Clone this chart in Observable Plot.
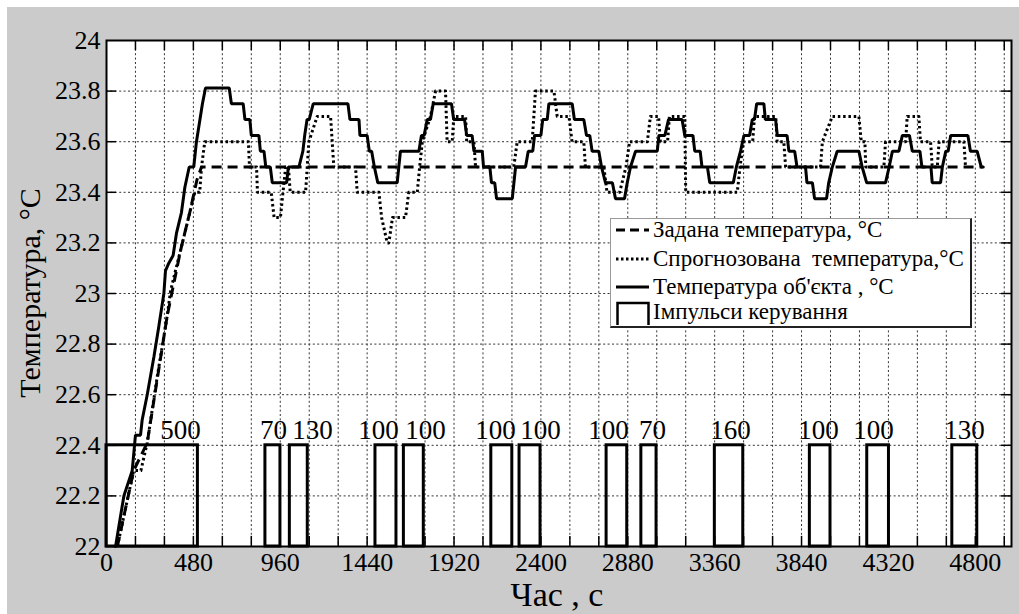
<!DOCTYPE html>
<html><head><meta charset="utf-8">
<script src="https://cdn.jsdelivr.net/npm/d3@7"></script>
<script src="https://cdn.jsdelivr.net/npm/@observablehq/plot@0.6"></script>
<style>
body{margin:0;background:#fff;}
#wrap{position:relative;width:1019px;height:614px;background:#fff;font-family:"Liberation Serif","Times New Roman",serif;color:#000;}
#grey{position:absolute;left:7px;top:7px;right:0;bottom:0;background:#cbcbcb;}
#chart{position:absolute;left:0;top:0;}
#ylabel{position:absolute;left:-170px;top:278px;width:400px;height:30px;line-height:30px;text-align:center;font-size:30px;transform:rotate(-90deg);transform-origin:50% 50%;white-space:nowrap;}
#xlabel{position:absolute;left:407px;top:576.3px;width:300px;line-height:normal;text-align:center;font-size:34px;white-space:nowrap;}
#legend{position:absolute;left:610px;top:218px;width:359px;height:107px;background:#fff;border:1px solid #999;border-right:2px solid #222;border-bottom:2px solid #222;}
.row{position:absolute;left:0;height:26px;width:359px;}
.row svg{position:absolute;left:4px;top:0;}
.row span{position:absolute;left:42px;top:0;line-height:26px;font-size:23px;white-space:nowrap;}
</style></head>
<body>
<div id="wrap">
  <div id="grey"></div>
  <div id="chart"></div>
  <div id="ylabel">Температура, °C</div>
  <div id="xlabel">Час , с</div>
  <div id="legend">
    <div class="row" style="top:-2px"><svg width="36" height="26"><line x1="1" y1="13" x2="34" y2="13" stroke="#000" stroke-width="3" stroke-dasharray="9,5"/></svg><span>Задана температура, °C</span></div>
    <div class="row" style="top:27px"><svg width="36" height="26"><line x1="1" y1="13" x2="34" y2="13" stroke="#000" stroke-width="3" stroke-dasharray="2.5,2.5"/></svg><span>Спрогнозована&nbsp; температура,°C</span></div>
    <div class="row" style="top:55px"><svg width="36" height="26"><line x1="1" y1="13" x2="34" y2="13" stroke="#000" stroke-width="3"/></svg><span>Температура об'єкта , °C</span></div>
    <div class="row" style="top:80px"><svg width="36" height="26"><path d="M2.5,26 V4 H33.5 V26" fill="none" stroke="#000" stroke-width="2.5"/></svg><span>Імпульси керування</span></div>
  </div>
</div>
<script>
// ---- data ----
const xTickValues = [0, 480, 960, 1440, 1920, 2400, 2880, 3360, 3840, 4320, 4800];
const yTickValues = [22, 22.2, 22.4, 22.6, 22.8, 23, 23.2, 23.4, 23.6, 23.8, 24];
const xGridStep = 160;

const setpoint = [[60,22.0],[150,22.3],[225,22.41],[335,22.91],[409,23.17],[460,23.32],[500,23.45],[525,23.5],[4840,23.5]];

const predicted = [
[60,22.0],[150,22.3],[190,22.3],[225,22.41],[280,22.67],[308,22.79],[335,22.91],[354,23.01],[381,23.09],[409,23.17],[433,23.24],[460,23.32],[488,23.4],[515,23.4],[525,23.5],[543,23.6],[784,23.6],[790,23.5],[829,23.5],[834,23.4],[910,23.4],[926,23.3],[961,23.3],[975,23.4],[990,23.5],[1005,23.5],[1015,23.4],[1100,23.4],[1118,23.6],[1164,23.7],[1238,23.7],[1256,23.5],[1376,23.5],[1385,23.4],[1505,23.4],[1520,23.3],[1551,23.2],[1560,23.2],[1580,23.3],[1652,23.3],[1670,23.4],[1717,23.4],[1730,23.5],[1745,23.6],[1790,23.7],[1818,23.8],[1873,23.8],[1882,23.6],[1910,23.6],[1919,23.7],[1984,23.7],[1990,23.6],[2030,23.6],[2039,23.5],[2250,23.5],[2269,23.6],[2352,23.6],[2370,23.8],[2472,23.8],[2490,23.7],[2555,23.7],[2572,23.6],[2637,23.6],[2646,23.5],[2748,23.5],[2765,23.4],[2835,23.4],[2870,23.5],[2890,23.6],[2988,23.6],[3005,23.7],[3050,23.7],[3060,23.6],[3100,23.6],[3110,23.7],[3195,23.7],[3200,23.4],[3485,23.4],[3500,23.5],[3520,23.6],[3570,23.6],[3580,23.7],[3697,23.7],[3705,23.6],[3742,23.6],[3752,23.5],[3945,23.5],[3955,23.6],[4010,23.7],[4157,23.7],[4170,23.6],[4190,23.6],[4195,23.5],[4295,23.5],[4304,23.6],[4415,23.6],[4424,23.7],[4488,23.7],[4497,23.6],[4553,23.6],[4562,23.5],[4590,23.5],[4600,23.6],[4737,23.6],[4746,23.5]
];

const actual = [
[50,22.0],[96,22.2],[142,22.3],[160,22.44],[188,22.44],[197,22.5],[225,22.6],[262,22.75],[289,22.87],[317,23.0],[326,23.09],[344,23.12],[368,23.15],[387,23.24],[414,23.32],[433,23.42],[457,23.5],[482,23.5],[497,23.6],[530,23.75],[547,23.8125],[678,23.8125],[690,23.75],[755,23.75],[765,23.6875],[792,23.6875],[800,23.625],[842,23.625],[850,23.5625],[870,23.5625],[880,23.5],[905,23.5],[916,23.4375],[995,23.4375],[1005,23.5],[1063,23.5],[1085,23.5625],[1095,23.625],[1108,23.6875],[1120,23.6875],[1142,23.75],[1334,23.75],[1345,23.6875],[1395,23.6875],[1400,23.625],[1440,23.625],[1452,23.5625],[1465,23.5625],[1480,23.5],[1499,23.4375],[1606,23.4375],[1615,23.5],[1624,23.5625],[1726,23.5625],[1740,23.625],[1755,23.625],[1772,23.6875],[1790,23.6875],[1805,23.75],[1906,23.75],[1918,23.6875],[1978,23.6875],[1990,23.625],[2020,23.625],[2030,23.5625],[2076,23.5625],[2083,23.5],[2118,23.5],[2127,23.4375],[2145,23.4375],[2155,23.375],[2242,23.375],[2260,23.5],[2315,23.5],[2330,23.5625],[2355,23.5625],[2365,23.625],[2400,23.625],[2410,23.6875],[2435,23.6875],[2444,23.75],[2573,23.75],[2585,23.6875],[2637,23.6875],[2652,23.625],[2670,23.625],[2683,23.5625],[2720,23.5625],[2735,23.5],[2757,23.4375],[2795,23.4375],[2812,23.375],[2862,23.375],[2877,23.4375],[2895,23.5],[2923,23.5625],[3043,23.5625],[3052,23.625],[3085,23.625],[3105,23.6875],[3180,23.6875],[3195,23.625],[3240,23.625],[3250,23.5625],[3280,23.5625],[3290,23.5],[3320,23.5],[3333,23.4375],[3463,23.4375],[3480,23.5],[3503,23.5625],[3522,23.625],[3553,23.625],[3568,23.6875],[3580,23.6875],[3592,23.75],[3632,23.75],[3640,23.6875],[3697,23.6875],[3706,23.625],[3760,23.625],[3770,23.5625],[3802,23.5625],[3815,23.5],[3862,23.5],[3870,23.4375],[3900,23.4375],[3912,23.375],[3978,23.375],[3990,23.4375],[4010,23.5],[4037,23.5625],[4157,23.5625],[4175,23.5],[4200,23.4375],[4304,23.4375],[4324,23.5],[4342,23.5625],[4378,23.5625],[4397,23.625],[4436,23.625],[4452,23.5625],[4494,23.5625],[4505,23.5],[4555,23.5],[4562,23.4375],[4608,23.4375],[4618,23.5],[4637,23.5625],[4650,23.5625],[4664,23.625],[4759,23.625],[4773,23.5625],[4810,23.5625],[4833,23.5],[4844,23.5]
];

const pulseStart = [0, 878, 1013, 1486, 1643, 2126, 2282, 2763, 2955, 3361, 3886, 4203, 4673];
const pulseEnd   = [505, 961, 1112, 1602, 1753, 2242, 2398, 2877, 3039, 3518, 4000, 4323, 4811];
const pulseLevel = 22.4;
const pulseLabels = ["500","70","130","100","100","100","100","100","70","160","100","100","130"];
const pulseLabelX = [409, 923, 1138, 1503, 1763, 2149, 2398, 2774, 3017, 3448, 3934, 4238, 4741];
const pulseLabelY = 22.458;

// ---- build ----
const xDomain = [0, 5000], yDomain = [22, 24];
const xGrid = d3.range(xGridStep, xDomain[1], xGridStep);
const yGrid = yTickValues.slice(1, -1);
const pulses = pulseStart.map((s, i) => ({start: s, end: pulseEnd[i]}));
const labels = pulseLabels.map((t, i) => ({x: pulseLabelX[i], text: t}));
const gridStyle = {stroke: "#333", strokeWidth: 1, strokeDasharray: "2,2.4"};

const chart = Plot.plot({
  width: 1019, height: 614,
  marginLeft: 106, marginRight: 8, marginTop: 40, marginBottom: 68,
  style: {background: "transparent", fontFamily: "'Liberation Serif','Times New Roman',serif", fontSize: "26px", color: "#000"},
  x: {domain: xDomain, ticks: xTickValues, tickSize: 0, tickPadding: 6, label: null, tickFormat: d => String(d)},
  y: {domain: yDomain, ticks: yTickValues, tickSize: 0, tickPadding: 6, label: null, tickFormat: d => String(d)},
  marks: [
    Plot.frame({fill: "white", stroke: null}),
    Plot.ruleX(xGrid, gridStyle),
    Plot.ruleY(yGrid, gridStyle),
    Plot.ruleX(xGrid, {y1: 22, y2: 22.04, stroke: "#000", strokeWidth: 1.5}),
    Plot.ruleX(xGrid, {y1: 23.96, y2: 24, stroke: "#000", strokeWidth: 1.5}),
    Plot.ruleY(yGrid, {x1: 0, x2: 55, stroke: "#000", strokeWidth: 1.5}),
    Plot.ruleY(yGrid, {x1: 4945, x2: 5000, stroke: "#000", strokeWidth: 1.5}),
    Plot.line(setpoint, {x: d => d[0], y: d => d[1], stroke: "#000", strokeWidth: 3, strokeDasharray: "10,6", strokeLinecap: "butt"}),
    Plot.line(predicted, {x: d => d[0], y: d => d[1], stroke: "#000", strokeWidth: 3, strokeDasharray: "2.5,2.8", strokeLinecap: "butt"}),
    Plot.line(actual, {x: d => d[0], y: d => d[1], stroke: "#000", strokeWidth: 3, strokeLinejoin: "miter"}),
    Plot.rect(pulses, {x1: "start", x2: "end", y1: 22, y2: pulseLevel, fill: "none", stroke: "#000", strokeWidth: 3}),
    Plot.text(labels, {x: "x", y: pulseLabelY, text: "text", fontSize: 27, fill: "#000"}),
    Plot.frame({stroke: "#000", strokeWidth: 2})
  ]
});
document.getElementById("chart").appendChild(chart);
</script>
</body></html>
